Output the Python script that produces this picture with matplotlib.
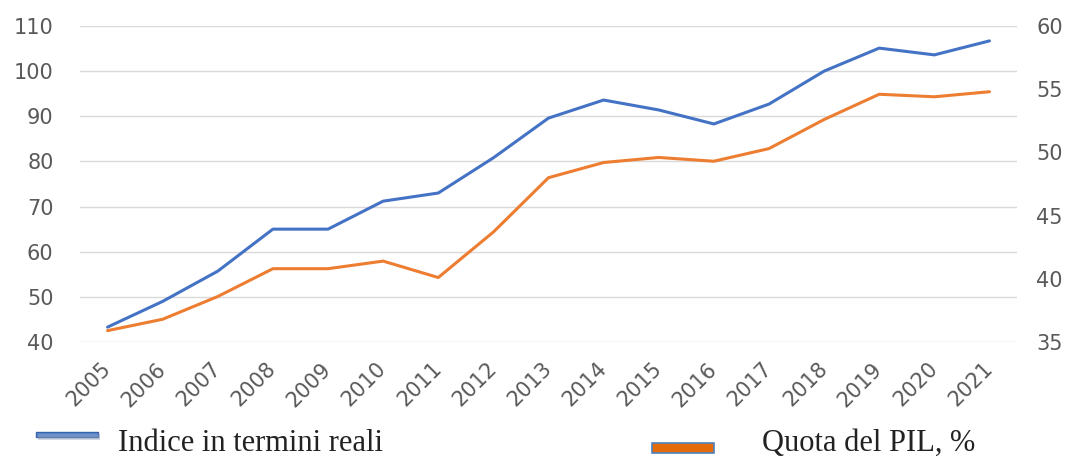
import matplotlib.pyplot as plt
import matplotlib.patches as mpatches
import matplotlib.transforms as mtransforms
from matplotlib.lines import Line2D
import numpy as np

years = [str(y) for y in range(2005, 2022)]
indice_reale = [43.3, 49.0, 55.7, 65.0, 65.0, 71.2, 73.0, 80.8, 89.6, 93.6,
                91.4, 88.3, 92.7, 100.0, 105.1, 103.6, 106.7]
quota_pil = [35.9, 36.8, 38.6, 40.8, 40.8, 41.4, 40.1, 43.7, 48.0, 49.2,
             49.6, 49.3, 50.3, 52.6, 54.6, 54.4, 54.8]

BLUE = "#4472C4"
ORANGE = "#ED7D31"
TICK = "#595959"
GRID = "#D9D9D9"

W, H = 1077, 457
fig = plt.figure(figsize=(W / 100, H / 100), dpi=100)
ax = fig.add_axes([80 / W, 1 - 342 / H, (1017 - 80) / W, (342 - 26) / H])
ax2 = ax.twinx()

x = np.arange(len(years))
ax.plot(x, indice_reale, color=BLUE, lw=2.2, solid_capstyle="round")
ax2.plot(x, quota_pil, color=ORANGE, lw=2.2, solid_capstyle="round")

ax.set_xlim(-0.5, len(years) - 0.5)
ax.set_ylim(40, 110)
ax2.set_ylim(35, 60)
ax.set_yticks(range(40, 111, 10))
ax2.set_yticks(range(35, 61, 5))
ax.set_xticks(x)
ax.set_xticklabels(years, rotation=45, ha="right", va="top", rotation_mode="anchor")

ax.grid(axis="y", color=GRID, lw=1)
ax.set_axisbelow(True)
for a in (ax, ax2):
    for s in a.spines.values():
        s.set_visible(False)
    a.tick_params(length=0, colors=TICK, labelsize=15)
ax.tick_params(axis="y", pad=19)
ax.tick_params(axis="x", pad=12)
ax2.tick_params(axis="y", pad=14)

# nudge year labels so their right end sits near the tick
shift = mtransforms.ScaledTranslation(-7 / 100, 0, fig.dpi_scale_trans)
for lab in ax.get_xticklabels():
    lab.set_transform(lab.get_transform() + shift)

# legend drawn below the plot, Word style
fig.add_artist(Line2D([38 / W, 100 / W], [1 - 437 / H] * 2, color="#8A9BB8", lw=4,
                      solid_capstyle="butt", alpha=0.5, transform=fig.transFigure))
fig.add_artist(mpatches.Rectangle((36 / W, 1 - 437 / H), 62 / W, 5 / H,
                                  facecolor="#5B8BD6", edgecolor="#3A62A8", lw=1,
                                  transform=fig.transFigure))
fig.text(118 / W, 1 - 451 / H, "Indice in termini reali", fontsize=22,
         family="Liberation Serif", color="#222222", va="baseline")
fig.add_artist(mpatches.Rectangle((652 / W, 1 - 453 / H), 62 / W, 10 / H,
                                  facecolor="#E36C0A", edgecolor="#4F81BD", lw=1.2,
                                  transform=fig.transFigure))
fig.text(762 / W, 1 - 451 / H, "Quota del PIL, %", fontsize=22,
         family="Liberation Serif", color="#222222", va="baseline")

fig.savefig("out.png", dpi=100)
